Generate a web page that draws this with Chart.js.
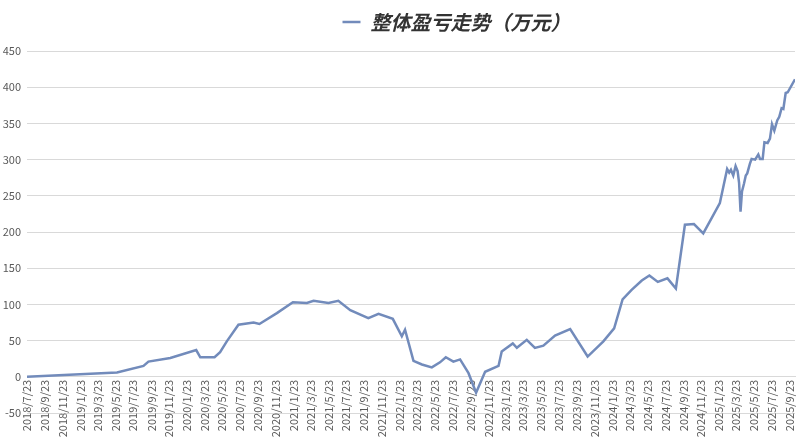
<!DOCTYPE html>
<html>
<head>
<meta charset="utf-8">
<style>
  html, body { margin: 0; padding: 0; background: #fff; }
</style>
</head>
<body>
<canvas id="pnl_chart" width="800" height="438"></canvas>
<script src="https://cdn.jsdelivr.net/npm/chart.js"></script>

<script>
    const seriesName = "整体盈亏走势（万元）";

    // snapshot dates and cumulative P&L (万元)
    const dates = [
        "2018/7/23", "2019/5/28", "2019/8/27", "2019/9/13", "2019/11/27",
        "2020/2/24", "2020/3/9", "2020/4/27", "2020/5/16", "2020/6/8",
        "2020/7/18", "2020/9/8", "2020/9/28", "2020/11/27", "2021/1/21",
        "2021/3/10", "2021/4/2", "2021/5/23", "2021/6/26", "2021/8/6",
        "2021/10/7", "2021/11/11", "2021/12/30", "2022/1/30", "2022/2/10",
        "2022/3/11", "2022/4/9", "2022/5/13", "2022/6/10", "2022/6/30",
        "2022/7/26", "2022/8/18", "2022/9/16", "2022/10/12", "2022/11/12",
        "2022/12/28", "2023/1/8", "2023/2/15", "2023/3/1", "2023/4/4",
        "2023/5/2", "2023/5/31", "2023/7/10", "2023/8/31", "2023/10/30",
        "2023/12/23", "2024/1/29", "2024/2/27", "2024/3/29", "2024/5/3",
        "2024/5/29", "2024/6/27", "2024/7/30", "2024/8/28", "2024/9/28",
        "2024/10/29", "2024/11/30", "2025/1/26", "2025/2/20", "2025/2/27",
        "2025/3/5", "2025/3/13", "2025/3/21", "2025/3/28", "2025/4/2",
        "2025/4/7", "2025/4/12", "2025/4/19", "2025/4/25", "2025/4/30",
        "2025/5/9", "2025/5/15", "2025/5/27", "2025/6/7", "2025/6/13",
        "2025/6/22", "2025/6/28", "2025/7/9", "2025/7/17", "2025/7/24",
        "2025/8/1", "2025/8/11", "2025/8/18", "2025/8/26", "2025/9/1",
        "2025/9/9", "2025/9/16", "2025/10/11"
    ];
    const values = [
        0, 6, 15, 21, 26,
        37, 27, 27, 34, 49,
        72, 75, 73, 88, 103,
        102, 105, 102, 105, 92,
        81, 87, 80, 56, 65,
        22, 17, 13, 20, 27,
        21, 24, 5, -22, 7,
        15, 35, 46, 40, 51,
        40, 43, 57, 66, 28,
        49, 67, 107, 120, 133,
        140, 131, 136, 122, 210,
        211, 198, 240, 287, 282,
        286, 278, 291, 284, 268,
        228, 256, 267, 278, 281,
        294, 301, 300, 307, 301,
        301, 324, 323, 329, 349,
        340, 354, 359, 371, 370,
        392, 393, 411
    ];

    const tickLabels = [
        "2018/7/23", "2018/9/23", "2018/11/23",
        "2019/1/23", "2019/3/23", "2019/5/23", "2019/7/23", "2019/9/23", "2019/11/23",
        "2020/1/23", "2020/3/23", "2020/5/23", "2020/7/23", "2020/9/23", "2020/11/23",
        "2021/1/23", "2021/3/23", "2021/5/23", "2021/7/23", "2021/9/23", "2021/11/23",
        "2022/1/23", "2022/3/23", "2022/5/23", "2022/7/23", "2022/9/23", "2022/11/23",
        "2023/1/23", "2023/3/23", "2023/5/23", "2023/7/23", "2023/9/23", "2023/11/23",
        "2024/1/23", "2024/3/23", "2024/5/23", "2024/7/23", "2024/9/23", "2024/11/23",
        "2025/1/23", "2025/3/23", "2025/5/23", "2025/7/23", "2025/9/23"
    ];

    const yMin = -50;
    const yMax = 450;
    const yStep = 50;

    function dayNum(s) {
        const p = s.split("/").map(Number);
        return Date.UTC(p[0], p[1] - 1, p[2]) / 86400000;
    }

    const font = "'Noto Sans CJK SC', 'Noto Sans', sans-serif";

    // the legend in the original sits right of centre and a bit higher
    const shiftLegend = {
        id: "shiftLegend",
        afterLayout(chart) {
            const lg = chart.legend;
            lg.left += 59;
            lg.right += 59;
            lg.top -= 9;
            lg.bottom -= 9;
        }
    };

    document.addEventListener("DOMContentLoaded", () => {
        const ctx = document.getElementById("pnl_chart").getContext("2d");

        new Chart(ctx, {
            type: "line",
            data: {
                datasets: [{
                    label: seriesName,
                    data: dates.map((d, i) => ({ x: dayNum(d), y: values[i] })),
                    borderColor: "rgb(114, 139, 187)",
                    backgroundColor: "rgb(114, 139, 187)",
                    borderWidth: 2.5,
                    pointRadius: 0,
                    tension: 0,
                    fill: false
                }]
            },
            options: {
                responsive: false,
                animation: false,
                layout: {
                    padding: { top: 11, right: 5, bottom: 25, left: 0 }
                },
                plugins: {
                    legend: {
                        position: "top",
                        labels: {
                            usePointStyle: true,
                            pointStyle: "line",
                            pointStyleWidth: 18,
                            color: "#333",
                            font: { size: 20, weight: "bold", style: "italic", family: font }
                        }
                    },
                    tooltip: { enabled: false }
                },
                scales: {
                    x: {
                        type: "linear",
                        position: { y: 0 },
                        min: dayNum(dates[0]),
                        max: dayNum(dates[dates.length - 1]),
                        afterBuildTicks: (scale) => {
                            scale.ticks = tickLabels.map(t => ({ value: dayNum(t) }));
                        },
                        afterFit: (scale) => {
                            scale.paddingLeft = 0;
                            scale.paddingRight = 0;
                        },
                        grid: { display: false, drawTicks: false },
                        border: { display: true, color: "#d9d9d9", width: 1 },
                        ticks: {
                            autoSkip: false,
                            minRotation: 90,
                            maxRotation: 90,
                            padding: 3,
                            color: "#595959",
                            font: { size: 11, family: font },
                            callback: (v, i) => tickLabels[i]
                        }
                    },
                    y: {
                        min: yMin,
                        max: yMax,
                        afterFit: (scale) => { scale.width = 27; },
                        grid: { color: "#d9d9d9", lineWidth: 1, drawTicks: false },
                        border: { display: false },
                        ticks: {
                            stepSize: yStep,
                            padding: 6,
                            color: "#595959",
                            font: { size: 11, family: font }
                        }
                    }
                }
            },
            plugins: [shiftLegend]
        });
    });
</script>
</body>
</html>
